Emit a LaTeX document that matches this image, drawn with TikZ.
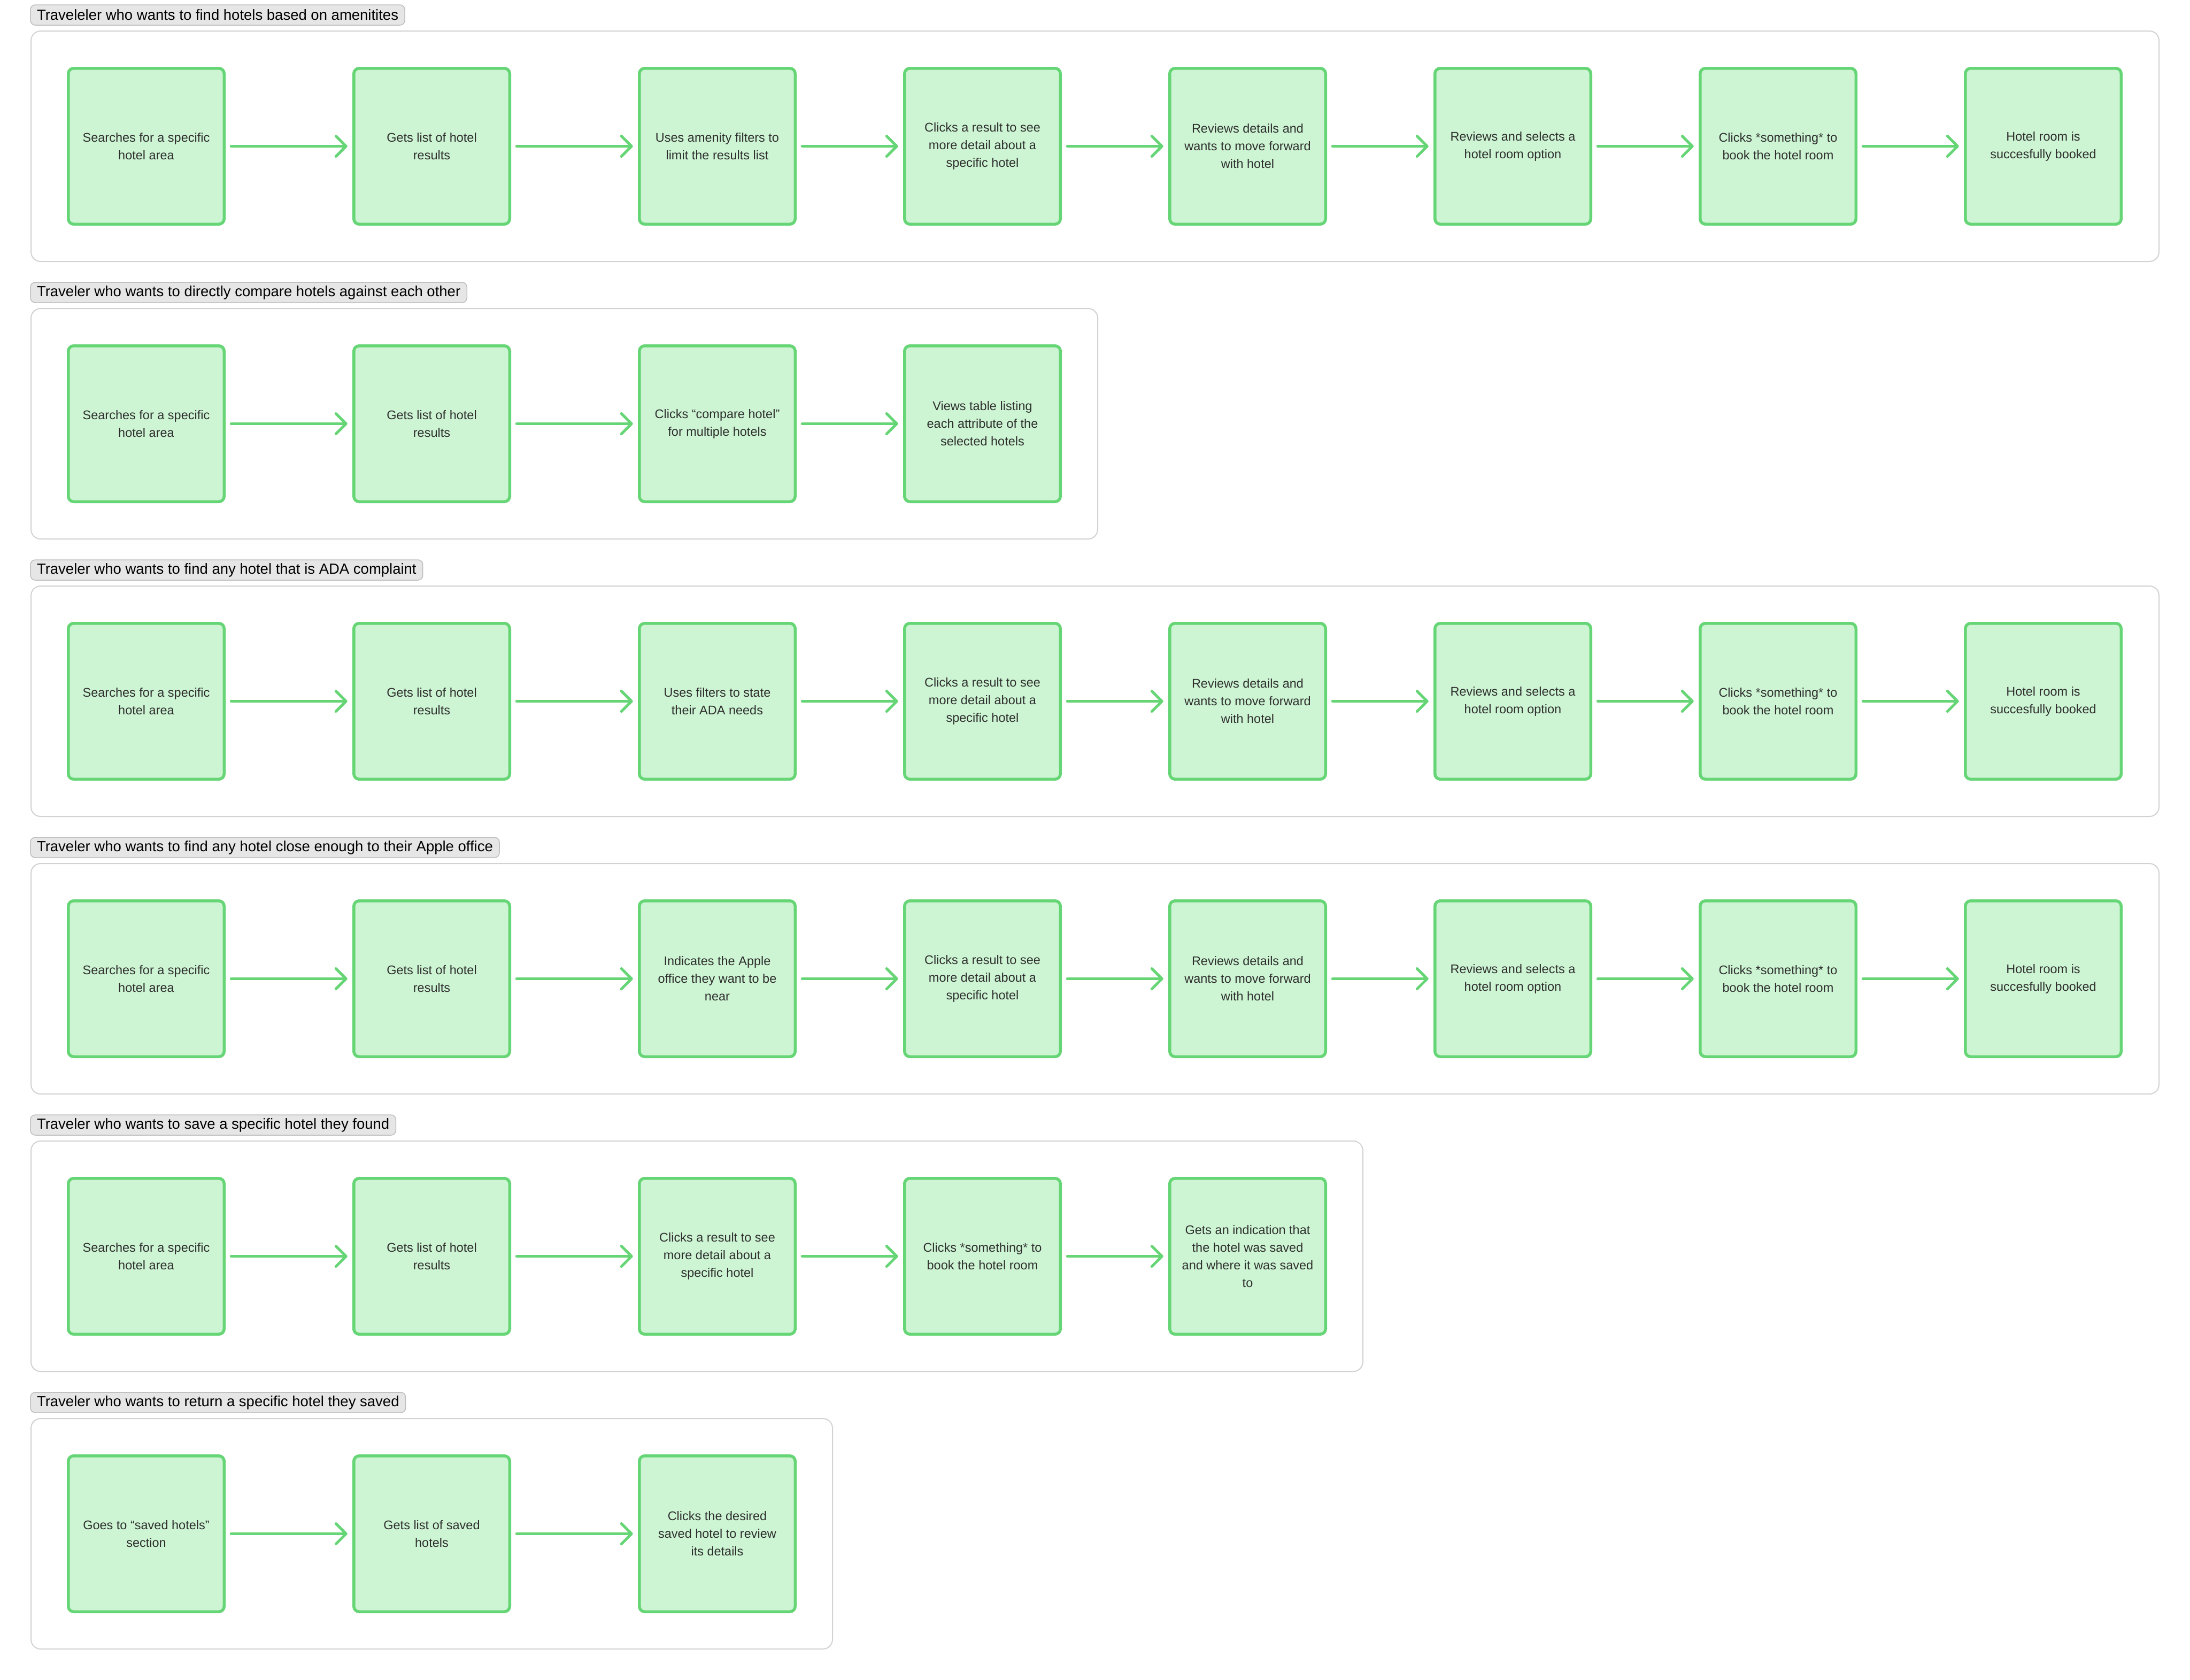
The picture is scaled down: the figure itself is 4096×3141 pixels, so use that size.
\documentclass[tikz,border=0pt]{standalone}
\usepackage{fontspec}
\setmainfont{Liberation Sans}
\usetikzlibrary{positioning, arrows.meta}

\definecolor{boxfill}{HTML}{CDF5D3}
\definecolor{boxline}{HTML}{66D575}
\definecolor{boxtext}{HTML}{2E2E2E}
\definecolor{tabfill}{HTML}{E6E6E6}
\definecolor{tabline}{HTML}{BDBDBD}
\definecolor{laneline}{HTML}{D2D2D2}

\newcommand{\boxfont}{\fontsize{23.5}{33}\selectfont}
\newcommand{\tabfont}{\fontsize{27.5}{32}\selectfont}

\begin{document}
\begin{tikzpicture}[
    x=1pt, y=-1pt,
    stepbox/.style={
        draw=boxline,
        fill=boxfill,
        line width=5.5pt,
        rounded corners=10pt,
        minimum width=291.5pt,
        minimum height=291.5pt,
        inner sep=0pt,
        outer sep=0pt,
        align=center,
        text=boxtext,
        font=\boxfont
    },
    lane/.style={
        draw=laneline,
        line width=2pt,
        rounded corners=18pt
    },
    tab/.style={
        draw=tabline,
        fill=tabfill,
        line width=1.5pt,
        rounded corners=9pt,
        minimum height=38pt,
        inner xsep=12pt,
        outer sep=0pt,
        anchor=west,
        font=\tabfont
    },
    flow/.style={
        draw=boxline,
        line width=5pt,
        line cap=round,
        -{Straight Barb[length=19pt, width=38pt, round]},
        shorten <=13pt,
        shorten >=12pt
    },
    wide/.style={right=242.5pt of #1},
    near/.style={right=204.5pt of #1}
]
    \useasboundingbox (0,0) rectangle (4096,3141);

    % Row 1: amenities
    \draw[lane] (58,58) rectangle (4038,489);
    \node[tab] (t1) at (57,28) {Traveleler who wants to find hotels based on amenitites\hspace{16pt}};
    \node[stepbox] (r1a) at (273.5,273.5) {Searches for a specific\\hotel area};
    \node[stepbox, wide=r1a] (r1b) {Gets list of hotel\\results};
    \node[stepbox, wide=r1b] (r1c) {Uses amenity filters to\\limit the results list};
    \node[stepbox, near=r1c] (r1d) {Clicks a result to see\\more detail about a\\specific hotel};
    \node[stepbox, near=r1d] (r1e) {Reviews details and\\wants to move forward\\with hotel};
    \node[stepbox, near=r1e] (r1f) {Reviews and selects a\\hotel room option};
    \node[stepbox, near=r1f] (r1g) {Clicks *something* to\\book the hotel room};
    \node[stepbox, near=r1g] (r1h) {Hotel room is\\succesfully booked};
    \draw[flow] (r1a) -- (r1b);
    \draw[flow] (r1b) -- (r1c);
    \draw[flow] (r1c) -- (r1d);
    \draw[flow] (r1d) -- (r1e);
    \draw[flow] (r1e) -- (r1f);
    \draw[flow] (r1f) -- (r1g);
    \draw[flow] (r1g) -- (r1h);

    % Row 2: compare hotels
    \draw[lane] (58,577) rectangle (2053,1008);
    \node[tab] (t2) at (57,547) {Traveler who wants to directly compare hotels against each other\hspace{16pt}};
    \node[stepbox] (r2a) at (273.5,792.5) {Searches for a specific\\hotel area};
    \node[stepbox, wide=r2a] (r2b) {Gets list of hotel\\results};
    \node[stepbox, wide=r2b] (r2c) {Clicks “compare hotel”\\for multiple hotels};
    \node[stepbox, near=r2c] (r2d) {Views table listing\\each attribute of the\\selected hotels};
    \draw[flow] (r2a) -- (r2b);
    \draw[flow] (r2b) -- (r2c);
    \draw[flow] (r2c) -- (r2d);

    % Row 3: ADA
    \draw[lane] (58,1096) rectangle (4038,1527);
    \node[tab] (t3) at (57,1066) {Traveler who wants to find any hotel that is ADA complaint\hspace{16pt}};
    \node[stepbox] (r3a) at (273.5,1311.5) {Searches for a specific\\hotel area};
    \node[stepbox, wide=r3a] (r3b) {Gets list of hotel\\results};
    \node[stepbox, wide=r3b] (r3c) {Uses filters to state\\their ADA needs};
    \node[stepbox, near=r3c] (r3d) {Clicks a result to see\\more detail about a\\specific hotel};
    \node[stepbox, near=r3d] (r3e) {Reviews details and\\wants to move forward\\with hotel};
    \node[stepbox, near=r3e] (r3f) {Reviews and selects a\\hotel room option};
    \node[stepbox, near=r3f] (r3g) {Clicks *something* to\\book the hotel room};
    \node[stepbox, near=r3g] (r3h) {Hotel room is\\succesfully booked};
    \draw[flow] (r3a) -- (r3b);
    \draw[flow] (r3b) -- (r3c);
    \draw[flow] (r3c) -- (r3d);
    \draw[flow] (r3d) -- (r3e);
    \draw[flow] (r3e) -- (r3f);
    \draw[flow] (r3f) -- (r3g);
    \draw[flow] (r3g) -- (r3h);

    % Row 4: Apple office
    \draw[lane] (58,1615) rectangle (4038,2046);
    \node[tab] (t4) at (57,1585) {Traveler who wants to find any hotel close enough to their Apple office\hspace{16pt}};
    \node[stepbox] (r4a) at (273.5,1830.5) {Searches for a specific\\hotel area};
    \node[stepbox, wide=r4a] (r4b) {Gets list of hotel\\results};
    \node[stepbox, wide=r4b] (r4c) {Indicates the Apple\\office they want to be\\near};
    \node[stepbox, near=r4c] (r4d) {Clicks a result to see\\more detail about a\\specific hotel};
    \node[stepbox, near=r4d] (r4e) {Reviews details and\\wants to move forward\\with hotel};
    \node[stepbox, near=r4e] (r4f) {Reviews and selects a\\hotel room option};
    \node[stepbox, near=r4f] (r4g) {Clicks *something* to\\book the hotel room};
    \node[stepbox, near=r4g] (r4h) {Hotel room is\\succesfully booked};
    \draw[flow] (r4a) -- (r4b);
    \draw[flow] (r4b) -- (r4c);
    \draw[flow] (r4c) -- (r4d);
    \draw[flow] (r4d) -- (r4e);
    \draw[flow] (r4e) -- (r4f);
    \draw[flow] (r4f) -- (r4g);
    \draw[flow] (r4g) -- (r4h);

    % Row 5: save a hotel
    \draw[lane] (58,2134) rectangle (2549,2565);
    \node[tab] (t5) at (57,2104) {Traveler who wants to save a specific hotel they found\hspace{16pt}};
    \node[stepbox] (r5a) at (273.5,2349.5) {Searches for a specific\\hotel area};
    \node[stepbox, wide=r5a] (r5b) {Gets list of hotel\\results};
    \node[stepbox, wide=r5b] (r5c) {Clicks a result to see\\more detail about a\\specific hotel};
    \node[stepbox, near=r5c] (r5d) {Clicks *something* to\\book the hotel room};
    \node[stepbox, near=r5d] (r5e) {Gets an indication that\\the hotel was saved\\and where it was saved\\to};
    \draw[flow] (r5a) -- (r5b);
    \draw[flow] (r5b) -- (r5c);
    \draw[flow] (r5c) -- (r5d);
    \draw[flow] (r5d) -- (r5e);

    % Row 6: return to a saved hotel
    \draw[lane] (58,2653) rectangle (1557,3084);
    \node[tab] (t6) at (57,2623) {Traveler who wants to return a specific hotel they saved\hspace{16pt}};
    \node[stepbox] (r6a) at (273.5,2868.5) {Goes to “saved hotels”\\section};
    \node[stepbox, wide=r6a] (r6b) {Gets list of saved\\hotels};
    \node[stepbox, wide=r6b] (r6c) {Clicks the desired\\saved hotel to review\\its details};
    \draw[flow] (r6a) -- (r6b);
    \draw[flow] (r6b) -- (r6c);

\end{tikzpicture}
\end{document}
